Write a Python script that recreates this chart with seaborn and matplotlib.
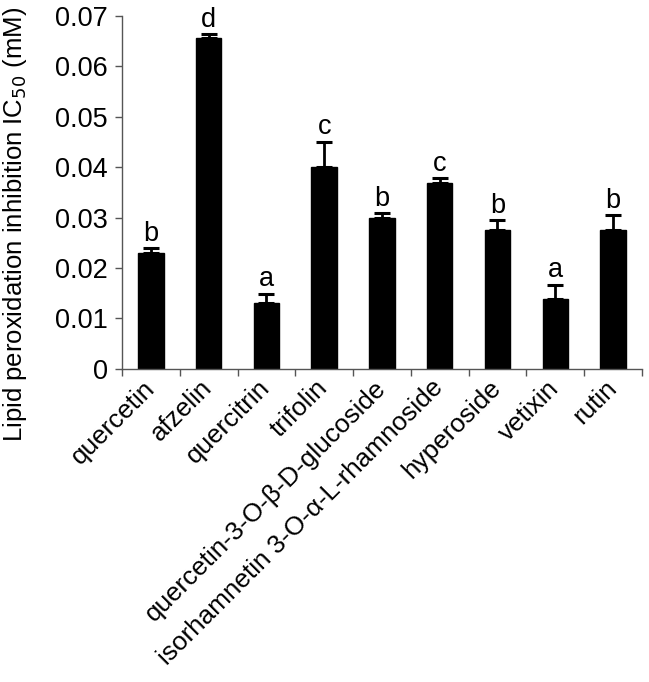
import numpy as np
import pandas as pd
import matplotlib
matplotlib.use("Agg")
import matplotlib.pyplot as plt
import seaborn as sns

# data
compounds = ['quercetin', 'afzelin', 'quercitrin', 'trifolin',
             'quercetin-3-O-β-D-glucoside', 'isorhamnetin 3-O-α-L-rhamnoside',
             'hyperoside', 'vetixin', 'rutin']
ic50 = [0.0230, 0.0655, 0.0131, 0.0401, 0.0300, 0.0369, 0.0275, 0.0138, 0.0275]
err = [0.0009, 0.0008, 0.0018, 0.0049, 0.0009, 0.0009, 0.0020, 0.0029, 0.0030]
letters = ['b', 'd', 'a', 'c', 'b', 'c', 'b', 'a', 'b']

df = pd.DataFrame({'compound': compounds, 'ic50': ic50, 'err': err})

sns.set_style('white')
plt.rcParams['font.family'] = ['Liberation Sans', 'DejaVu Sans']
plt.rcParams['text.color'] = 'black'
plt.rcParams['axes.labelcolor'] = 'black'
plt.rcParams['xtick.color'] = 'black'
plt.rcParams['ytick.color'] = 'black'

fs = 19.5

fig = plt.figure(figsize=(6.49, 6.82), dpi=100)
ax = fig.add_axes([0.188, 0.459, 0.801, 0.518])

sns.barplot(data=df, x='compound', y='ic50', color='black', width=0.44,
            edgecolor='black', ax=ax)

#upward-only error bars with caps
x = np.arange(len(compounds))
ax.errorbar(x, df['ic50'], yerr=[np.zeros(len(x)), df['err']], fmt='none',
            ecolor='black', elinewidth=2, capsize=5.5, capthick=2.2)

#significance letters
for i, (v, e, l) in enumerate(zip(ic50, err, letters)):
    ax.text(i, v + e + 0.0003, l, ha='center', va='bottom', fontsize=fs)

ax.set_xlim(-0.5, len(compounds) - 0.5)
ax.set_ylim(0, 0.07)
ax.set_yticks(np.arange(0, 0.071, 0.01))
ax.set_yticklabels(['0'] + [f'{t:.2f}' for t in np.arange(0.01, 0.071, 0.01)])

# category ticks sit between bars, excel style
ax.set_xticks(x)
ax.set_xticklabels(compounds, rotation=45, ha='right', va='center',
                   rotation_mode='anchor', fontsize=18.8)
ax.set_xticks(np.arange(-0.5, len(compounds)), minor=True)
ax.tick_params(axis='x', which='major', length=0, pad=11)
ax.tick_params(axis='x', which='minor', length=5, width=1, color='#555555',
               direction='out', bottom=True)
ax.tick_params(axis='y', length=5, width=1, color='#555555', direction='out',
               left=True, labelsize=fs, pad=5)

ax.set_xlabel('')
ax.set_ylabel('Lipid peroxidation inhibition IC$_{50}$ (mM)', fontsize=18.5)
# label sits lower than the axes centre in the reference
ax.yaxis.set_label_coords(-0.178, 0.41)

for s in ['top', 'right']:
    ax.spines[s].set_visible(False)
for s in ['left', 'bottom']:
    ax.spines[s].set_color('#555555')
    ax.spines[s].set_linewidth(1)

fig.savefig('out.png', dpi=100)
